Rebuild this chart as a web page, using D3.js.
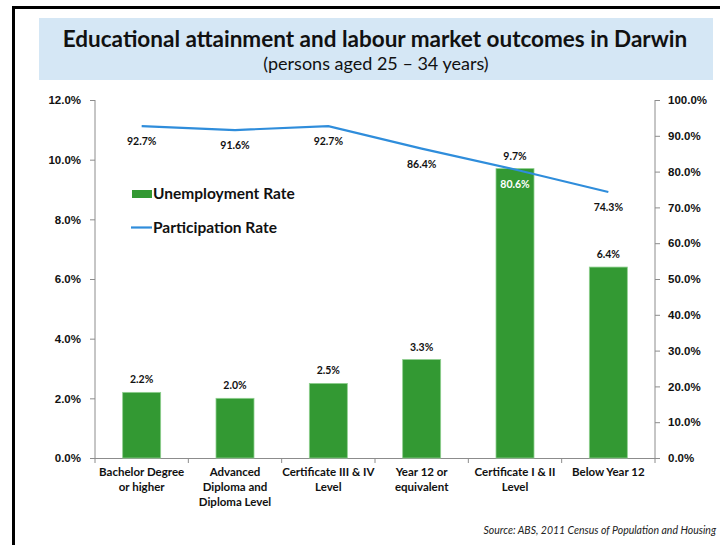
<!DOCTYPE html>
<html>
<head>
<meta charset="utf-8">
<script src="https://cdn.jsdelivr.net/npm/d3@7"></script>
<style>
  body { margin: 0; background: #fff; }
  svg { display: block; font-family: Lato, "Open Sans", sans-serif; }
</style>
</head>
<body>
<svg id="chart"></svg>
<script>
// categories and values
const categories = [
    ['Bachelor Degree', 'or higher'],
    ['Advanced', 'Diploma and', 'Diploma Level'],
    ['Certificate III & IV', 'Level'],
    ['Year 12 or', 'equivalent'],
    ['Certificate I & II', 'Level'],
    ['Below Year 12']
];
const unemployment = [2.2, 2.0, 2.5, 3.3, 9.7, 6.4];
const participation = [92.7, 91.6, 92.7, 86.4, 80.6, 74.3];
const leftTicks = [0, 2, 4, 6, 8, 10, 12];
const rightTicks = [0, 10, 20, 30, 40, 50, 60, 70, 80, 90, 100];

const W = 720, H = 545;
const GREEN = '#339933', BLUE = '#2f8ddb', AXIS = '#8c8c8c';
const svg = d3.select('#chart').attr('width', W).attr('height', H);

// frame and title box
svg.append('path').attr('d', `M13.5,${H} V7.5 H${W}`)
    .attr('fill', 'none').attr('stroke', '#000').attr('stroke-width', 3);
svg.append('rect').attr('x', 39).attr('y', 18).attr('width', 674).attr('height', 62)
    .attr('fill', '#d5e7f5');
svg.append('text').attr('x', 375).attr('y', 47).attr('text-anchor', 'middle')
    .attr('font-size', 22.5).attr('font-weight', 700).attr('fill', '#111')
    .text('Educational attainment and labour market outcomes in Darwin');
svg.append('text').attr('x', 376).attr('y', 70).attr('text-anchor', 'middle')
    .attr('font-size', 18).attr('fill', '#111')
    .text('(persons aged 25 \u2013 34 years)');

// ── Scales ──
const M = { left: 95, right: 655, top: 100, bottom: 458 };
const x = d3.scaleBand().domain(d3.range(categories.length)).range([M.left, M.right]);
const yL = d3.scaleLinear().domain([0, 12]).range([M.bottom, M.top]);
const yR = d3.scaleLinear().domain([0, 100]).range([M.bottom, M.top]);
const barW = 38;

// ── Axes ──
const styleAxis = g => {
    g.selectAll('.domain, line').attr('stroke', AXIS);
    g.selectAll('text').attr('font-size', 11.5).attr('font-weight', 700).attr('fill', '#111');
};
svg.append('g').attr('transform', `translate(${M.left},0)`)
    .call(d3.axisLeft(yL).tickValues(leftTicks).tickFormat(d => d.toFixed(1) + '%')
        .tickSize(5).tickSizeOuter(0).tickPadding(9))
    .call(styleAxis).call(g => g.select('.domain').remove());
svg.append('line').attr('x1', M.left).attr('x2', M.left).attr('y1', M.top).attr('y2', M.bottom)
    .attr('stroke', AXIS);

svg.append('g').attr('transform', `translate(${M.right},0)`)
    .call(d3.axisRight(yR).tickValues(rightTicks).tickFormat(d => d.toFixed(1) + '%')
        .tickSize(5).tickSizeOuter(0).tickPadding(8))
    .call(styleAxis).call(g => g.select('.domain').remove());
svg.append('line').attr('x1', M.right).attr('x2', M.right).attr('y1', M.top).attr('y2', M.bottom)
    .attr('stroke', AXIS);

// x axis: ticks at band boundaries
const bounds = d3.range(categories.length + 1).map(i => M.left + i * x.bandwidth());
svg.append('line').attr('x1', M.left - 2).attr('x2', M.right + 2)
    .attr('y1', M.bottom + 0.5).attr('y2', M.bottom + 0.5).attr('stroke', AXIS);
svg.selectAll('.xtick').data(bounds).join('line').attr('class', 'xtick')
    .attr('x1', d => d).attr('x2', d => d)
    .attr('y1', M.bottom).attr('y2', M.bottom + 5).attr('stroke', AXIS);

const xl = svg.selectAll('.xlab').data(categories).join('text').attr('class', 'xlab')
    .attr('text-anchor', 'middle').attr('font-size', 11.5).attr('font-weight', 700).attr('fill', '#111');
xl.selectAll('tspan').data((d, i) => d.map(t => ({ t, i }))).join('tspan')
    .attr('x', d => x(d.i) + x.bandwidth() / 2)
    .attr('y', (d, j) => 476 + j * 15)
    .text(d => d.t);

// ── Bars ──
svg.selectAll('.bar').data(unemployment).join('rect').attr('class', 'bar')
    .attr('x', (d, i) => x(i) + x.bandwidth() / 2 - barW / 2)
    .attr('width', barW)
    .attr('y', d => yL(d))
    .attr('height', d => yL(0) - yL(d))
    .attr('fill', GREEN).attr('stroke', '#8fcf8f').attr('stroke-width', 0.8);

svg.selectAll('.barlab').data(unemployment).join('text').attr('class', 'barlab')
    .attr('x', (d, i) => x(i) + x.bandwidth() / 2)
    .attr('y', d => yL(d) - 9)
    .attr('text-anchor', 'middle').attr('font-size', 10.5).attr('font-weight', 700).attr('fill', '#111')
    .text(d => d.toFixed(1) + '%');

// ── Line ──
const line = d3.line().x((d, i) => x(i) + x.bandwidth() / 2).y(d => yR(d));
svg.append('path').datum(participation).attr('d', line)
    .attr('fill', 'none').attr('stroke', BLUE).attr('stroke-width', 2.2);

svg.selectAll('.linelab').data(participation).join('text').attr('class', 'linelab')
    .attr('x', (d, i) => x(i) + x.bandwidth() / 2)
    .attr('y', d => yR(d) + 19)
    .attr('text-anchor', 'middle').attr('font-size', 10.5).attr('font-weight', 700)
    .attr('fill', (d, i) => yR(d) + 12 > yL(unemployment[i]) ? '#fff' : '#111')
    .text(d => d.toFixed(1) + '%');

// ── Legend ──
svg.append('rect').attr('x', 132).attr('y', 190).attr('width', 20).attr('height', 8).attr('fill', GREEN);
svg.append('text').attr('x', 153).attr('y', 199).attr('font-size', 15.5).attr('font-weight', 700)
    .attr('fill', '#111').text('Unemployment Rate');
svg.append('line').attr('x1', 131).attr('x2', 152).attr('y1', 227.5).attr('y2', 227.5)
    .attr('stroke', BLUE).attr('stroke-width', 2.2);
svg.append('text').attr('x', 153).attr('y', 232.5).attr('font-size', 15.5).attr('font-weight', 700)
    .attr('fill', '#111').text('Participation Rate');

// source
svg.append('text').attr('x', 716).attr('y', 534).attr('text-anchor', 'end')
    .attr('font-size', 10.5).attr('font-style', 'italic').attr('fill', '#222')
    .text('Source: ABS, 2011 Census of Population and Housing');
</script>
</body>
</html>
